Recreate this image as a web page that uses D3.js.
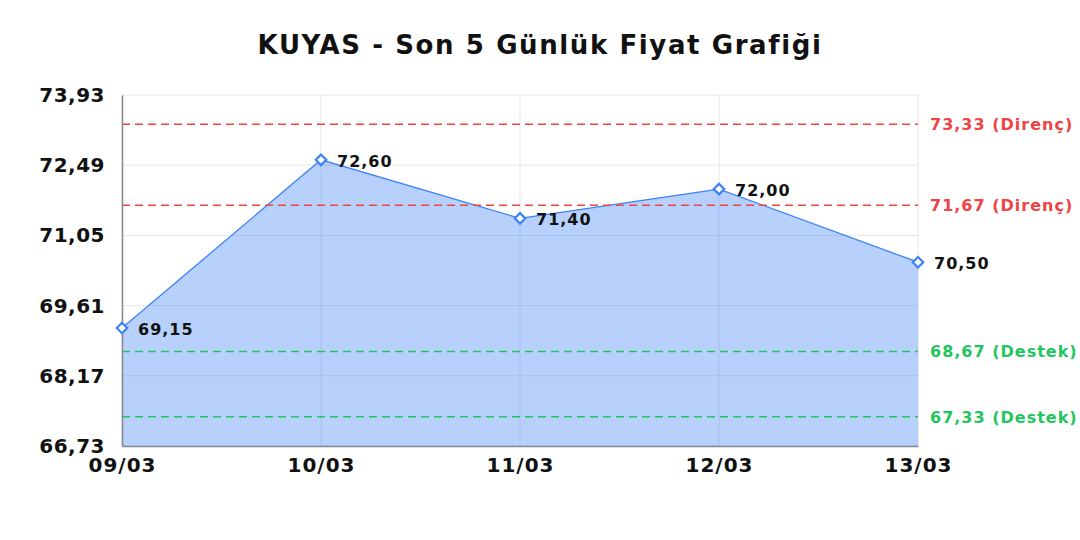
<!DOCTYPE html>
<html>
<head>
<meta charset="utf-8">
<script src="https://cdn.jsdelivr.net/npm/d3@7"></script>
<style>
  body { margin: 0; background: #fff; }
  svg { font-family: "DejaVu Sans", sans-serif; }
</style>
</head>
<body>
<svg id="chart" width="1080" height="540"></svg>
<script>
// Chart values
const dates = ["09/03", "10/03", "11/03", "12/03", "13/03"];
const prices = [69.15, 72.60, 71.40, 72.00, 70.50];
const yTicks = [66.73, 68.17, 69.61, 71.05, 72.49, 73.93];
const resistance = [73.33, 71.67];
const support = [68.67, 67.33];

const margin = { left: 122, right: 162, top: 95, bottom: 94 };
const width = 1080, height = 540;

const fmt = v => v.toFixed(2).replace(".", ",");

const svg = d3.select("#chart");

const x = d3.scalePoint()
    .domain(dates)
    .range([margin.left, width - margin.right]);

const y = d3.scaleLinear()
    .domain([yTicks[0], yTicks[yTicks.length - 1]])
    .range([height - margin.bottom, margin.top]);

// title
svg.append("text")
    .attr("x", 540)
    .attr("y", 54)
    .attr("text-anchor", "middle")
    .style("font-size", "26px")
    .style("font-weight", "bold")
    .style("letter-spacing", "1.6px")
    .attr("fill", "#111")
    .text("KUYAS - Son 5 Günlük Fiyat Grafiği");

// grid
svg.append("g")
    .selectAll("line")
    .data(yTicks)
    .join("line")
    .attr("x1", margin.left).attr("x2", width - margin.right)
    .attr("y1", d => y(d)).attr("y2", d => y(d))
    .attr("stroke", "#e6e6e6");

svg.append("g")
    .selectAll("line")
    .data(dates)
    .join("line")
    .attr("x1", d => x(d)).attr("x2", d => x(d))
    .attr("y1", margin.top).attr("y2", height - margin.bottom)
    .attr("stroke", "#e6e6e6");

// area + line
const pts = dates.map((d, i) => ({ date: d, value: prices[i] }));

svg.append("path")
    .datum(pts)
    .attr("fill", "rgba(59,130,246,0.37)")
    .attr("d", d3.area()
        .x(d => x(d.date))
        .y0(y(yTicks[0]))
        .y1(d => y(d.value)));

svg.append("path")
    .datum(pts)
    .attr("fill", "none")
    .attr("stroke", "#3b82f6")
    .attr("stroke-width", 1.3)
    .attr("d", d3.line()
        .x(d => x(d.date))
        .y(d => y(d.value)));

// support / resistance
const levels = resistance.map(v => ({ v, label: "Direnç", color: "#ef4444" }))
    .concat(support.map(v => ({ v, label: "Destek", color: "#22c55e" })));

svg.append("g")
    .selectAll("line")
    .data(levels)
    .join("line")
    .attr("x1", margin.left).attr("x2", width - margin.right)
    .attr("y1", d => y(d.v)).attr("y2", d => y(d.v))
    .attr("stroke", d => d.color)
    .attr("stroke-width", 1.5)
    .attr("stroke-dasharray", "8,5");

svg.append("g")
    .selectAll("text")
    .data(levels)
    .join("text")
    .attr("x", width - margin.right + 12)
    .attr("y", d => y(d.v) + 6)
    .attr("fill", d => d.color)
    .style("font-size", "16px")
    .style("font-weight", "bold")
    .style("letter-spacing", "1px")
    .text(d => `${fmt(d.v)} (${d.label})`);

// axes
const yAxis = svg.append("g")
    .attr("transform", `translate(${margin.left},0)`)
    .call(d3.axisLeft(y).tickValues(yTicks).tickSize(0).tickPadding(17).tickFormat(fmt));
yAxis.select(".domain").attr("stroke", "#888").attr("stroke-width", 1.5);
yAxis.selectAll("text")
    .style("font-size", "20px").style("font-weight", "bold")
    .style("letter-spacing", "0.5px")
    .attr("fill", "#111")
    .attr("font-family", "DejaVu Sans");

const xAxis = svg.append("g")
    .attr("transform", `translate(0,${height - margin.bottom})`)
    .call(d3.axisBottom(x).tickSize(0).tickPadding(12));
xAxis.select(".domain").attr("stroke", "#888").attr("stroke-width", 1.5);
xAxis.selectAll("text")
    .style("font-size", "20px").style("font-weight", "bold")
    .style("letter-spacing", "1px")
    .attr("fill", "#111")
    .attr("font-family", "DejaVu Sans");

// markers
svg.append("g")
    .selectAll("path")
    .data(pts)
    .join("path")
    .attr("transform", d => `translate(${x(d.date)},${y(d.value)})`)
    .attr("d", d3.symbol(d3.symbolDiamond2, 70))
    .attr("fill", "#fff")
    .attr("stroke", "#3b82f6")
    .attr("stroke-width", 2.2);

// value labels
svg.append("g")
    .selectAll("text")
    .data(pts)
    .join("text")
    .attr("x", d => x(d.date) + 16)
    .attr("y", d => y(d.value) + 7)
    .style("font-size", "16px")
    .style("font-weight", "bold")
    .style("letter-spacing", "1px")
    .attr("fill", "#111")
    .text(d => fmt(d.value));
</script>
</body>
</html>
